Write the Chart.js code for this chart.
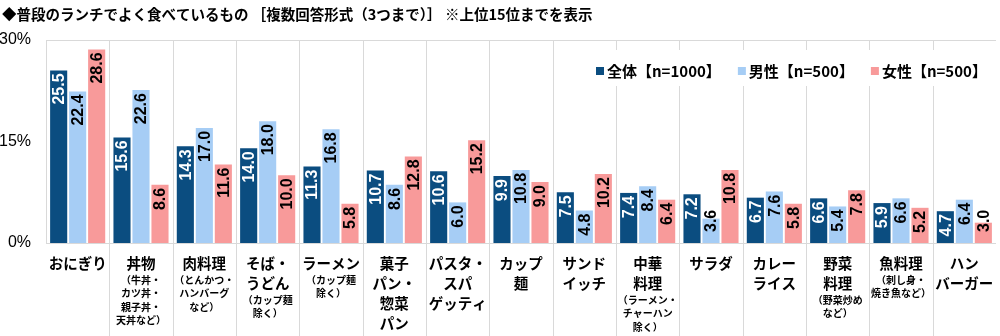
<!DOCTYPE html>
<html>
<head>
<meta charset="utf-8">
<script src="https://cdn.jsdelivr.net/npm/chart.js@4"></script>
<style>
  body { margin: 0; background: #fff; }
  #wrap { width: 1000px; height: 336px; }
</style>
</head>
<body>
<div id="wrap"><canvas id="chart"></canvas></div>
<script>
// タイトル・凡例
const titleText = "◆普段のランチでよく食べているもの ［複数回答形式（3つまで）］ ※上位15位までを表示";
const seriesNames = ["全体【n=1000】", "男性【n=500】", "女性【n=500】"];

// カテゴリ（改行ごと）と補足
const categories = [
  ["おにぎり"], ["丼物"], ["肉料理"], ["そば・", "うどん"], ["ラーメン"],
  ["菓子", "パン・", "惣菜", "パン"], ["パスタ・", "スパ", "ゲッティ"], ["カップ", "麺"],
  ["サンド", "イッチ"], ["中華", "料理"], ["サラダ"], ["カレー", "ライス"],
  ["野菜", "料理"], ["魚料理"], ["ハン", "バーガー"]
];
const notes = [
  [], ["（牛丼・", "カツ丼・", "親子丼・", "天丼など）"], ["（とんかつ・", "ハンバーグ", "など）"],
  ["（カップ麺", "除く）"], ["（カップ麺", "除く）"], [], [], [], [],
  ["（ラーメン・", "チャーハン", "除く）"], [], [], ["（野菜炒め", "など）"],
  ["（刺し身・", "焼き魚など）"], []
];

// 値（%）
const totalValues = [25.5, 15.6, 14.3, 14.0, 11.3, 10.7, 10.6, 9.9, 7.5, 7.4, 7.2, 6.7, 6.6, 5.9, 4.7];
const maleValues = [22.4, 22.6, 17.0, 18.0, 16.8, 8.6, 6.0, 10.8, 4.8, 8.4, 3.6, 7.6, 5.4, 6.6, 6.4];
const femaleValues = [28.6, 8.6, 11.6, 10.0, 5.8, 12.8, 15.2, 9.0, 10.2, 6.4, 10.8, 5.8, 7.8, 5.2, 3.0];
const yTicks = [0, 15, 30];

const colors = ["#0b4d80", "#a6cdf5", "#f89a9a"];
const labelColors = ["#ffffff", "#000000", "#000000"];
const JP = '"Noto Sans CJK JP", sans-serif';
const NUM = '"Liberation Sans", Arial, sans-serif';

// 区切り線・上下の枠線
const gridPlugin = {
  id: "grid",
  beforeDatasetsDraw(chart) {
    const { ctx, chartArea: a, scales: { x, y } } = chart;
    const half = (x.getPixelForValue(1) - x.getPixelForValue(0)) / 2;
    ctx.save();
    ctx.strokeStyle = "#d9d9d9";
    ctx.lineWidth = 1;
    ctx.beginPath();
    [y.getPixelForValue(30), y.getPixelForValue(0)].forEach(py => {
      ctx.moveTo(a.left, Math.round(py) + 0.5);
      ctx.lineTo(a.right, Math.round(py) + 0.5);
    });
    ctx.moveTo(Math.round(a.left) + 0.5, a.top);
    ctx.lineTo(Math.round(a.left) + 0.5, a.bottom);
    for (let i = 1; i < categories.length; i++) {
      const px = Math.round(x.getPixelForValue(i) - half) + 0.5;
      ctx.moveTo(px, a.top);
      ctx.lineTo(px, chart.height);
    }
    ctx.stroke();
    ctx.restore();
  }
};

// 棒の数値（縦書き回転）
const valuePlugin = {
  id: "values",
  afterDatasetsDraw(chart) {
    const { ctx } = chart;
    ctx.save();
    ctx.font = `bold 16px ${NUM}`;
    ctx.textBaseline = "middle";
    chart.data.datasets.forEach((ds, di) => {
      chart.getDatasetMeta(di).data.forEach((bar, i) => {
        const text = ds.data[i].toFixed(1);
        const w = ctx.measureText(text).width;
        ctx.save();
        ctx.fillStyle = labelColors[di];
        if (bar.base - bar.y >= w + 5) {
          ctx.translate(bar.x, bar.y + 3);
          ctx.rotate(-Math.PI / 2);
          ctx.textAlign = "right";
        } else {
          ctx.translate(bar.x, bar.base - 11);
          ctx.rotate(-Math.PI / 2);
          ctx.textAlign = "left";
        }
        ctx.fillText(text, 0, 1);
        ctx.restore();
      });
    });
    ctx.restore();
  }
};

// タイトル・凡例・カテゴリ名
const textPlugin = {
  id: "texts",
  afterDraw(chart) {
    const { ctx, scales: { x } } = chart;
    ctx.save();
    ctx.fillStyle = "#000";
    ctx.textBaseline = "middle";
    ctx.textAlign = "left";
    ctx.font = `bold 14.5px ${JP}`;
    ctx.fillText(titleText, 2, 14);

    // 凡例
    ctx.font = `bold 15px ${JP}`;
    ctx.fillStyle = "#fff";
    ctx.fillRect(588, 50, 380, 36);
    let lx = 596;
    seriesNames.forEach((name, i) => {
      ctx.fillStyle = colors[i];
      ctx.fillRect(lx, 67, 8, 8);
      ctx.fillStyle = "#000";
      ctx.fillText(name, lx + 11, 71);
      lx += 11 + ctx.measureText(name).width + 17;
    });

    // カテゴリ名
    ctx.textAlign = "center";
    categories.forEach((lines, i) => {
      const cx = x.getPixelForValue(i);
      let cy = 263;
      ctx.font = `bold 14.5px ${JP}`;
      lines.forEach((l, k) => ctx.fillText(l, cx, cy + k * 20));
      cy += (lines.length - 1) * 20 + 17;
      ctx.font = `bold 10px ${JP}`;
      notes[i].forEach((l, k) => ctx.fillText(l, cx, cy + k * 13.5));
    });
    ctx.restore();
  }
};

new Chart(document.getElementById("chart"), {
  type: "bar",
  data: {
    labels: categories.map(c => c.join("")),
    datasets: seriesNames.map((name, i) => ({
      label: name,
      data: [totalValues, maleValues, femaleValues][i],
      backgroundColor: colors[i],
      categoryPercentage: 0.9,
      barPercentage: 0.9
    }))
  },
  options: {
    responsive: true,
    maintainAspectRatio: false,
    animation: false,
    layout: { padding: { top: 40, bottom: 93, right: 4, left: 0 } },
    plugins: { legend: { display: false }, title: { display: false }, tooltip: { enabled: false } },
    scales: {
      x: {
        display: false
      },
      y: {
        min: 0,
        max: 30,
        afterFit: s => { s.width = 46; },
        afterBuildTicks: s => { s.ticks = yTicks.map(v => ({ value: v })); },
        ticks: {
          callback: v => v + "%",
          color: "#000",
          padding: 7,
          font: { family: NUM, size: 16 }
        },
        grid: { display: false },
        border: { display: false }
      }
    }
  },
  plugins: [gridPlugin, valuePlugin, textPlugin]
});
</script>
</body>
</html>
